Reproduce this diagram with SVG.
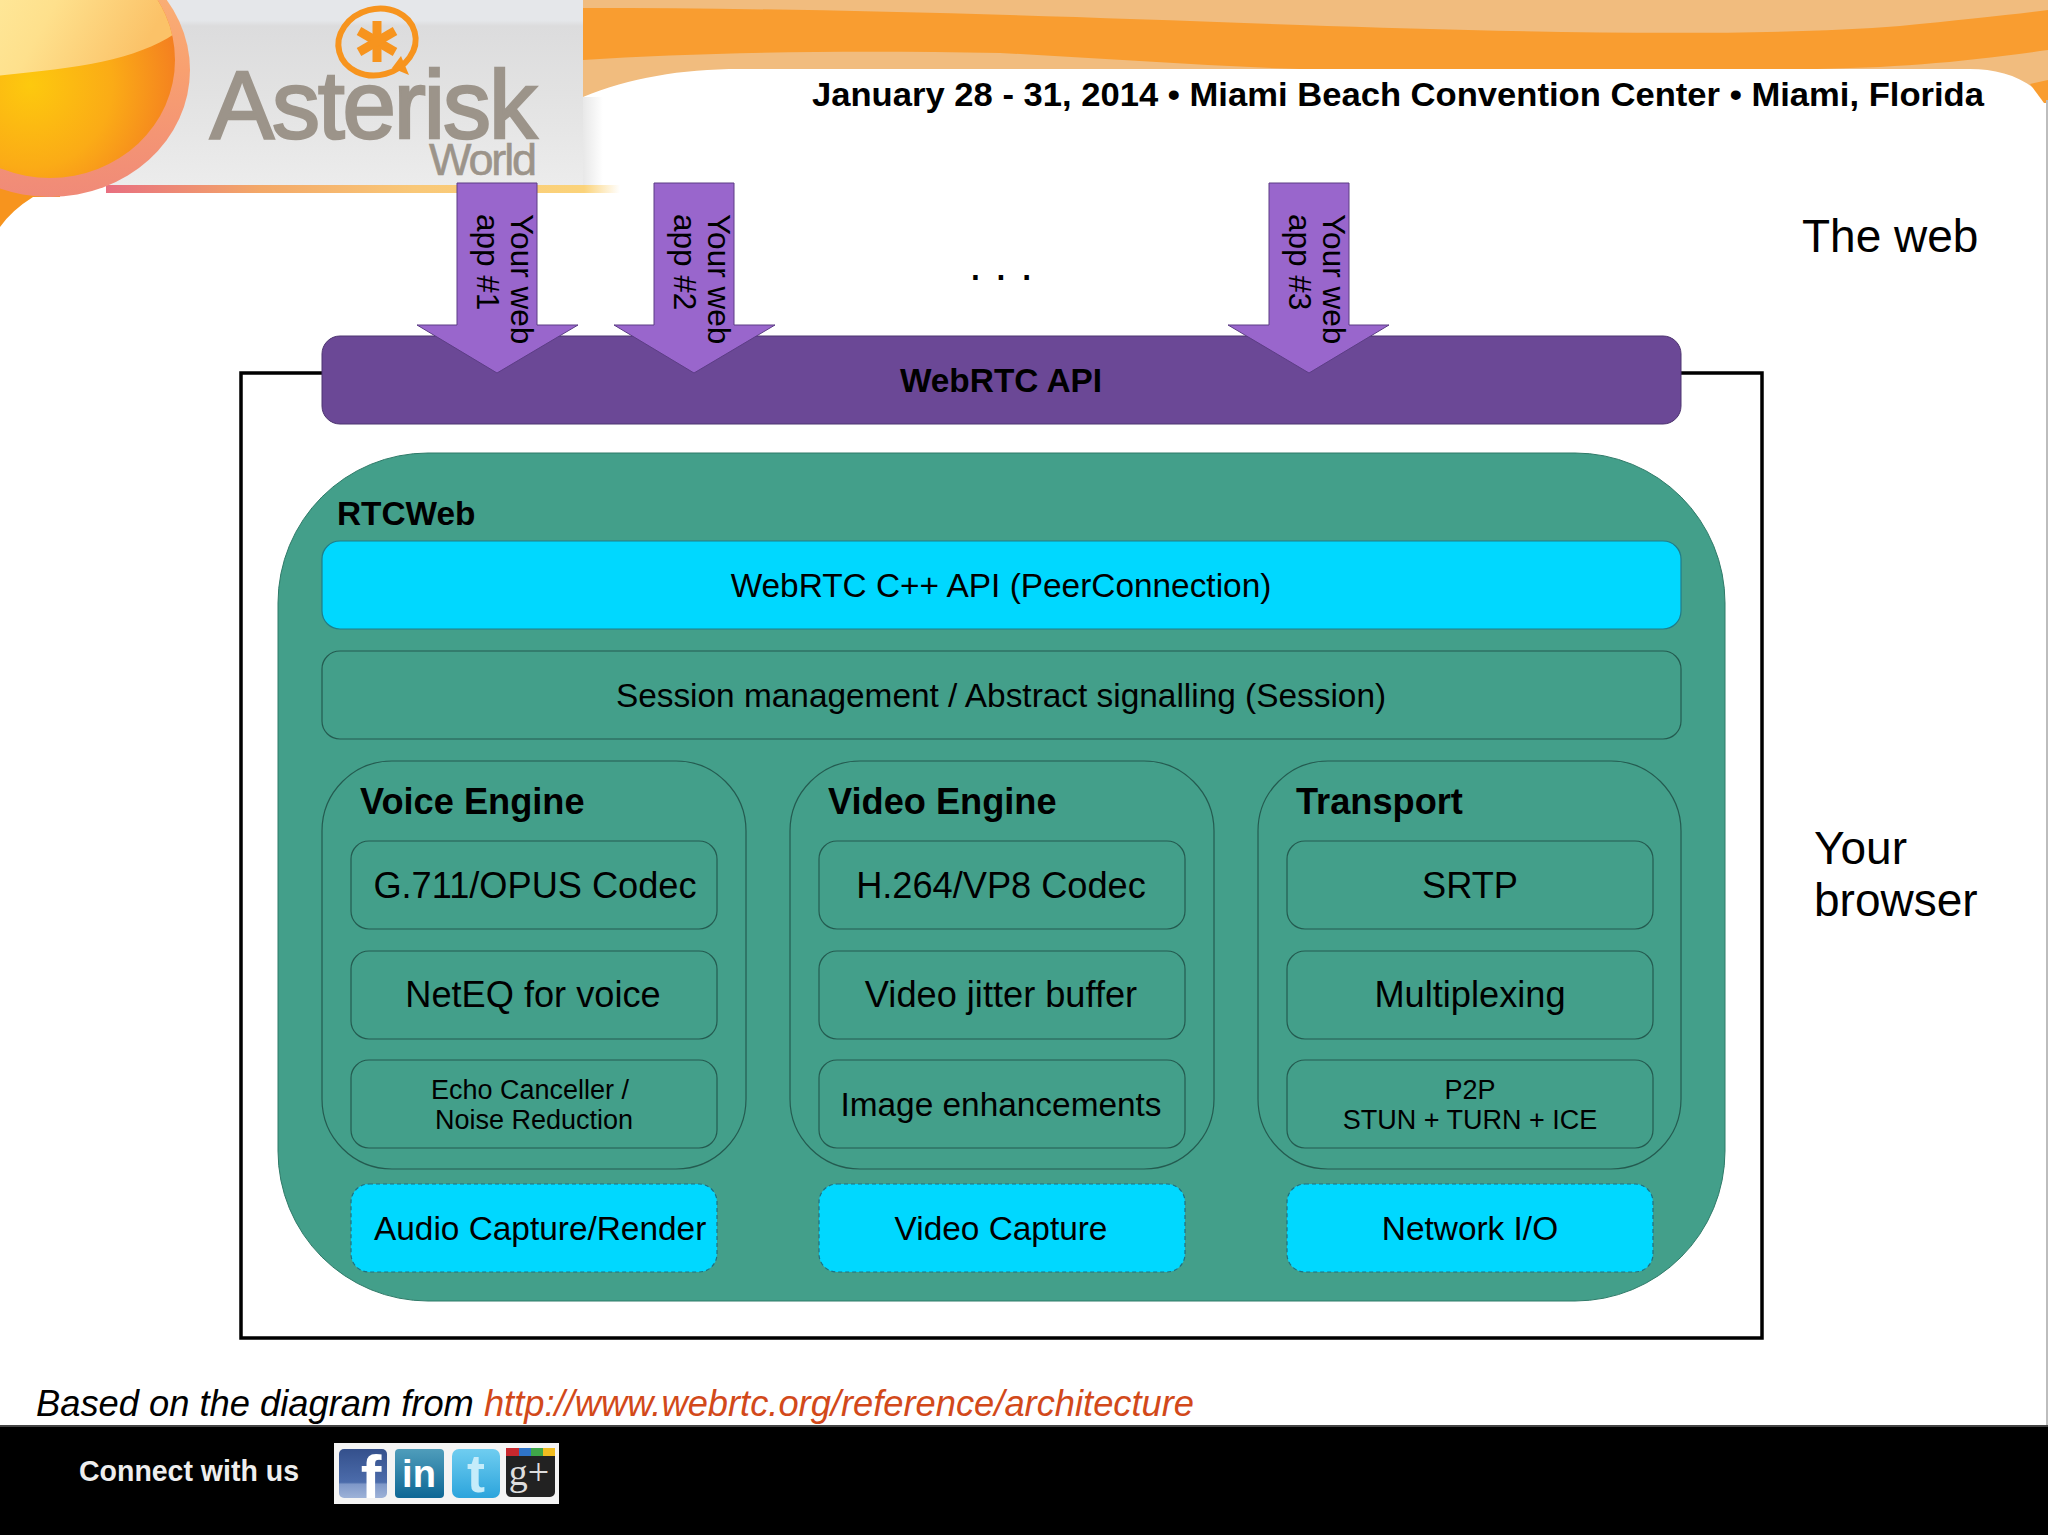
<svg xmlns="http://www.w3.org/2000/svg" width="2048" height="1535" viewBox="0 0 2048 1535">
<defs>
<radialGradient id="sunA" gradientUnits="userSpaceOnUse" cx="30" cy="85" r="150"><stop offset="0" stop-color="#fdc90e"/><stop offset="0.55" stop-color="#fbab16"/><stop offset="1" stop-color="#f47f20"/></radialGradient>
<linearGradient id="sunB" x1="0" y1="0" x2="1" y2="0.3"><stop offset="0" stop-color="#fff3ac"/><stop offset="0.6" stop-color="#fee08c"/><stop offset="1" stop-color="#fbc268"/></linearGradient>
<linearGradient id="ring" x1="0" y1="0" x2="0" y2="1"><stop offset="0" stop-color="#fbb878"/><stop offset="0.5" stop-color="#f8a070"/><stop offset="1" stop-color="#f08a78"/></linearGradient>
<linearGradient id="line" x1="0" x2="1" y1="0" y2="0"><stop offset="0" stop-color="#e86f80"/><stop offset="0.3" stop-color="#f3a868"/><stop offset="0.6" stop-color="#f9c878"/><stop offset="0.93" stop-color="#fbd37a"/><stop offset="1" stop-color="#fff"/></linearGradient>
<linearGradient id="fade" x1="0" x2="1" y1="0" y2="0"><stop offset="0" stop-color="#e8e8e8"/><stop offset="1" stop-color="#e8e8e8" stop-opacity="0"/></linearGradient>
<linearGradient id="grey" x1="0" x2="0" y1="0" y2="1"><stop offset="0" stop-color="#e5e7ea"/><stop offset="0.11" stop-color="#e5e7ea"/><stop offset="0.14" stop-color="#dcdcdd"/><stop offset="0.5" stop-color="#e2e2e2"/><stop offset="1" stop-color="#ececec"/></linearGradient>
<linearGradient id="fb" x1="0" x2="0" y1="0" y2="1"><stop offset="0" stop-color="#34508c"/><stop offset="0.68" stop-color="#4c6cab"/><stop offset="0.72" stop-color="#7f98c8"/><stop offset="1" stop-color="#9db2d8"/></linearGradient>
<linearGradient id="li" x1="0" x2="0" y1="0" y2="1"><stop offset="0" stop-color="#4f9dbb"/><stop offset="1" stop-color="#0e6795"/></linearGradient>
<linearGradient id="tw" x1="0" x2="0" y1="0" y2="1"><stop offset="0" stop-color="#6fcdf0"/><stop offset="1" stop-color="#2ca4dc"/></linearGradient>
<clipPath id="sunClip"><ellipse cx="50" cy="60" rx="125" ry="118"/></clipPath>
</defs>
<style>
text{font-family:"Liberation Sans",Arial,sans-serif;fill:#000}
.c{text-anchor:middle}
.b{font-weight:bold}
.s33{font-size:33.4px}
.s36{font-size:36.2px}
.s27{font-size:27px}
.s46{font-size:46px}
.box{fill:none;stroke:#245b50;stroke-width:1.2}
.cy{fill:#00d8ff;stroke:#1f7d8a;stroke-width:1.2}
.cyd{fill:#00d8ff;stroke:#1f6f80;stroke-width:1.2;stroke-dasharray:4 3}
.arrow{fill:#9966cc;stroke:#5c3d85;stroke-width:1}
.at{font-size:31.5px}
.logo{fill:#9c948a;stroke:#9c948a}
</style>
<rect width="2048" height="1535" fill="#fff"/>
<g id="banner">
<path d="M583 0H2048V103C2030 78 2000 69 1970 69H740C680 69 630 78 583 97Z" fill="#f1bc7e"/>
<path d="M583 8C800 8 1000 14 1300 25C1500 32 1750 38 1900 26C1960 20 2010 15 2048 10V50C1960 62 1900 68 1800 69H1300C1200 66 1100 58 1000 53C850 50 700 52 583 60Z" fill="#f99d30"/>
<path d="M2030 84L2048 80V103L2044 103Z" fill="#f99d30"/>
<rect x="60" y="0" width="523" height="185" fill="url(#grey)"/>
<rect x="583" y="97" width="20" height="88" fill="url(#fade)"/>
<rect x="106" y="185" width="514" height="8" fill="url(#line)"/>
<path d="M0 150H60V197H33Q12 210 0 227Z" fill="#f7941e"/>
<ellipse cx="50" cy="70" rx="140" ry="127" fill="url(#ring)"/>
<ellipse cx="50" cy="60" rx="125" ry="118" fill="url(#sunA)"/>
<path d="M-80 82C40 72 130 68 180 30V-60H-80Z" fill="url(#sunB)" clip-path="url(#sunClip)"/>
<rect x="2046" y="100" width="2" height="1325" fill="#bdbdbd"/>
</g>
<g id="logo">
<ellipse cx="377" cy="42" rx="39" ry="33" transform="rotate(-15 377 42)" fill="none" stroke="#f7941e" stroke-width="6"/>
<path d="M392 68L409 75L401 56Z" fill="#f7941e"/>
<g stroke="#f7941e" stroke-width="9"><line x1="377" y1="21" x2="377" y2="62"/><line x1="359" y1="31" x2="395" y2="52"/><line x1="395" y1="31" x2="359" y2="52"/></g>
<text x="210" y="138" font-size="96" class="logo" stroke-width="2.5" textLength="327" lengthAdjust="spacing">Asterisk</text>
<text x="429" y="175" font-size="45" class="logo" stroke-width="0.6" textLength="108" lengthAdjust="spacing">World</text>
</g>
<text id="header" x="812" y="106" class="b" font-size="33" textLength="1172" lengthAdjust="spacingAndGlyphs">January 28 - 31, 2014 • Miami Beach Convention Center • Miami, Florida</text>
<g id="frame"><rect x="241" y="373" width="1521" height="965" fill="#fff" stroke="#000" stroke-width="3.5"/></g>
<g id="webrtc-api"><rect x="322" y="336" width="1359" height="88" rx="18" fill="#6b4896" stroke="#4d3470" stroke-width="1"/><text x="1001" y="392" class="c b s33">WebRTC API</text></g>
<g id="rtcweb"><rect x="278" y="453" width="1447" height="848" rx="150" fill="#439f8a" stroke="#2e7a68" stroke-width="1"/><text x="337" y="525" class="b s33">RTCWeb</text></g>
<g id="cpp-api"><rect x="322" y="541" width="1359" height="88" rx="18" class="cy"/><text x="1001" y="597" class="c s33">WebRTC C++ API (PeerConnection)</text></g>
<g id="session"><rect x="322" y="651" width="1359" height="88" rx="18" class="box"/><text x="1001" y="707" class="c s33">Session management / Abstract signalling (Session)</text></g>
<g id="voice-engine"><rect x="322" y="761" width="424" height="408" rx="70" class="box"/><text x="360" y="814" class="b s36">Voice Engine</text></g>
<g id="video-engine"><rect x="790" y="761" width="424" height="408" rx="70" class="box"/><text x="828" y="814" class="b s36">Video Engine</text></g>
<g id="transport"><rect x="1258" y="761" width="423" height="408" rx="70" class="box"/><text x="1296" y="814" class="b s36">Transport</text></g>
<g id="codec-a"><rect x="351" y="841" width="366" height="88" rx="18" class="box"/><text x="535" y="898" class="c s36">G.711/OPUS Codec</text></g>
<g id="neteq"><rect x="351" y="951" width="366" height="88" rx="18" class="box"/><text x="533" y="1007" class="c s36">NetEQ for voice</text></g>
<g id="echo"><rect x="351" y="1060" width="366" height="88" rx="18" class="box"/><text x="530" y="1099" class="c s27">Echo Canceller /</text><text x="534" y="1129" class="c s27">Noise Reduction</text></g>
<g id="codec-v"><rect x="819" y="841" width="366" height="88" rx="18" class="box"/><text x="1001" y="898" class="c s36">H.264/VP8 Codec</text></g>
<g id="jitter"><rect x="819" y="951" width="366" height="88" rx="18" class="box"/><text x="1001" y="1007" class="c s36">Video jitter buffer</text></g>
<g id="image"><rect x="819" y="1060" width="366" height="88" rx="18" class="box"/><text x="1001" y="1116" class="c s33">Image enhancements</text></g>
<g id="srtp"><rect x="1287" y="841" width="366" height="88" rx="18" class="box"/><text x="1470" y="898" class="c s36">SRTP</text></g>
<g id="mux"><rect x="1287" y="951" width="366" height="88" rx="18" class="box"/><text x="1470" y="1007" class="c s36">Multiplexing</text></g>
<g id="p2p"><rect x="1287" y="1060" width="366" height="88" rx="18" class="box"/><text x="1470" y="1099" class="c s27">P2P</text><text x="1470" y="1129" class="c s27">STUN + TURN + ICE</text></g>
<g id="audio-capture"><rect x="351" y="1184" width="366" height="88" rx="18" class="cyd"/><text x="374" y="1240" class="s33">Audio Capture/Render</text></g>
<g id="video-capture"><rect x="819" y="1184" width="366" height="88" rx="18" class="cyd"/><text x="1001" y="1240" class="c s33">Video Capture</text></g>
<g id="network-io"><rect x="1287" y="1184" width="366" height="88" rx="18" class="cyd"/><text x="1470" y="1240" class="c s33">Network I/O</text></g>
<g id="app1"><path d="M457 183H537V325H578L497 373L417 325H457Z" class="arrow"/><text transform="translate(511 214) rotate(90)" class="at">Your web</text><text transform="translate(477 214) rotate(90)" class="at">app #1</text></g>
<g id="app2"><path d="M654 183H734V325H775L694 373L614 325H654Z" class="arrow"/><text transform="translate(708 214) rotate(90)" class="at">Your web</text><text transform="translate(674 214) rotate(90)" class="at">app #2</text></g>
<g id="app3"><path d="M1269 183H1349V325H1389L1309 373L1228 325H1269Z" class="arrow"/><text transform="translate(1323 214) rotate(90)" class="at">Your web</text><text transform="translate(1289 214) rotate(90)" class="at">app #3</text></g>
<text id="dots" x="1001" y="280" class="c s46">. . .</text>
<text id="the-web" x="1802" y="252" class="s46">The web</text>
<text id="your-browser" class="s46"><tspan x="1814" y="864">Your</tspan><tspan x="1814" y="916">browser</tspan></text>
<text id="credit" x="36" y="1416" font-size="36.3" font-style="italic">Based on the diagram from <tspan style="fill:#d2491a">http://www.webrtc.org/reference/architecture</tspan></text>
<g id="footer">
<rect y="1425" width="2048" height="110" fill="#000"/>
<rect y="1425" width="2048" height="2" fill="#444"/>
<text x="79" y="1481" class="b" font-size="29" textLength="220" lengthAdjust="spacingAndGlyphs" style="fill:#eee">Connect with us</text>
<rect x="334" y="1443" width="225" height="61" fill="#f4f4f4"/>
<rect x="339" y="1449" width="48" height="49" rx="5" fill="url(#fb)"/>
<text x="371" y="1498" class="c b" font-size="62" style="fill:#fff">f</text>
<rect x="395" y="1449" width="49" height="49" rx="4" fill="url(#li)"/>
<text x="419" y="1487" class="c b" font-size="38" style="fill:#fff">in</text>
<rect x="452" y="1449" width="48" height="49" rx="7" fill="url(#tw)"/>
<text x="476" y="1492" class="c b" font-size="54" style="fill:#c5ecfa">t</text>
<rect x="506" y="1448" width="49" height="49" rx="5" fill="#222"/>
<rect x="506" y="1448" width="13" height="8" fill="#c8282e"/><rect x="519" y="1448" width="12" height="8" fill="#2f74c8"/><rect x="531" y="1448" width="12" height="8" fill="#3fa648"/><rect x="543" y="1448" width="12" height="8" fill="#f0bc20"/>
<text x="529" y="1485" class="c" font-size="38" style="fill:#ddd;font-family:'Liberation Serif',serif">g+</text>
</g>
</svg>
